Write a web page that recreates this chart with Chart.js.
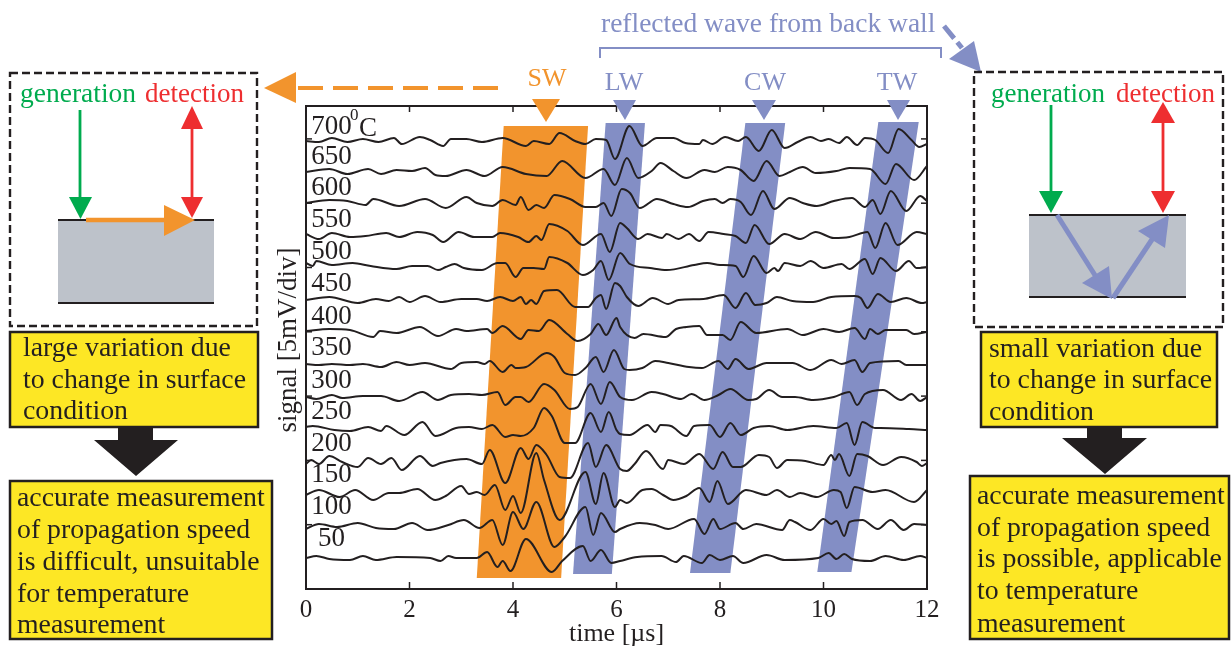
<!DOCTYPE html>
<html>
<head>
<meta charset="utf-8">
<title>signal vs time</title>
<script src="https://cdn.jsdelivr.net/npm/chart.js@4"></script>
<style>
  html, body { margin: 0; padding: 0; background: #fff; }
  canvas { display: block; }
</style>
</head>
<body>
<canvas id="chart" width="1231" height="650"></canvas>
<script>
// ===== DATA. [time us, deviation from trace baseline] =====
const temps = ["700", "650", "600", "550", "500", "450", "400", "350", "300", "250", "200", "150", "100", "50"];
// baseline of each trace on the y axis (64.3 units = 1 div = 5 mV)
const baselines = [448, 417, 386, 354, 324, 288, 258, 225, 192, 162, 127, 94, 62, 31];
// where the temperature labels sit on the y axis
const labelLevels = [462, 432, 401, 369, 337, 305, 272, 241, 208, 177, 145, 114, 82, 50];

const trace700 = [[0,0],[.25,-1],[.5,3],[.8,-1],[1.1,2],[1.4,-1],[1.7,3],[1.85,-3],[2.2,4],[2.4,1],[2.65,-5],[2.8,2],[3.1,2],[3.4,-1],[3.8,3],[4.25,-5],[4.4,0],[4.7,-3],[4.9,8],[5.2,0],[5.4,-3],[5.6,2],[5.8,1],[5.97,-18],[6.25,15],[6.5,-5],[6.78,3],[7.1,3],[7.33,-2],[7.6,-3],[7.67,1],[7.85,-3],[8.1,4],[8.35,0],[8.5,4],[8.75,-10],[9,11],[9.25,-7],[9.5,-1],[9.75,4],[9.95,0],[10.1,2],[10.3,-2],[10.45,4],[10.65,-4],[10.8,3],[11,1],[11.25,-12],[11.45,12],[11.7,1],[11.85,-6],[12,-3]];
const trace650 = [[0,0],[.45,3],[.8,-2],[1.2,3],[1.45,-2],[1.75,2],[2.05,1],[2.3,4],[2.5,-3],[2.7,-4],[3.1,2],[3.45,-4],[3.8,5],[4.25,-2],[4.65,-4],[4.95,11],[5.4,-6],[5.75,3],[5.97,-13],[6.2,14],[6.42,-6],[6.68,1],[6.85,9],[7.1,1],[7.35,-6],[7.7,2],[7.9,0],[8.15,5],[8.4,2],[8.65,-9],[8.9,11],[9.15,-4],[9.35,0],[9.6,5],[9.85,-1],[10.25,1],[10.5,4],[10.9,3],[11.2,-12],[11.4,8],[11.75,-8],[12,6]];
const trace600 = [[0,0],[.45,3],[.8,2],[1.15,-2],[1.3,4],[1.8,-3],[2.3,4],[2.7,-5],[3.1,6],[3.3,0],[3.6,-3],[3.8,3],[4.05,-2],[4.15,6],[4.3,-7],[4.45,-2],[4.6,-5],[4.8,8],[5.1,4],[5.4,-4],[5.6,-4],[5.75,0],[5.9,-13],[6.1,14],[6.26,10],[6.45,-5],[6.78,4],[7.1,-1],[7.38,-4],[7.67,2],[7.9,4],[8.05,0],[8.2,4],[8.4,1],[8.6,-12],[8.83,12],[9.05,-6],[9.35,5],[9.6,0],[9.87,-3],[10.2,2],[10.55,5],[10.8,-4],[10.95,3],[11.1,-11],[11.3,12],[11.6,-8],[11.87,7],[12,2]];
const trace550 = [[0,1],[.25,-4],[.5,2],[.85,-2],[1.15,-1],[1.55,2],[1.8,-2],[2.15,3],[2.45,0],[2.65,-7],[2.95,3],[3.25,-2],[3.6,-2],[3.75,2],[4.1,-2],[4.3,-7],[4.45,-1],[4.55,-5],[4.7,11],[5.05,4],[5.35,-10],[5.7,1],[5.87,-17],[6.07,12],[6.2,7],[6.42,-4],[6.6,1],[6.88,-3],[6.97,1],[7.2,-4],[7.4,1],[7.6,-6],[7.78,3],[8.07,1],[8.3,-1],[8.5,-8],[8.67,10],[8.95,-9],[9.25,1],[9.55,-4],[9.85,3],[10.2,-3],[10.5,-2],[10.85,3],[11,-13],[11.2,12],[11.43,-10],[11.8,3],[12,1]];
const trace500 = [[0,2],[.13,-1],[.2,4],[.5,0],[.9,2],[1.25,-1],[1.75,-4],[2.05,-1],[2.35,-1],[2.55,-5],[2.7,-2],[2.87,1],[3.05,-3],[3.4,-5],[3.7,2],[3.85,2],[4.05,-12],[4.2,-3],[4.4,-3],[4.6,-4],[4.7,8],[5.05,2],[5.35,-10],[5.55,-5],[5.7,4],[5.85,-15],[6.07,12],[6.26,1],[6.65,-3],[6.97,-5],[7.5,0],[7.75,2],[8,0],[8.3,-1],[8.45,-12],[8.65,9],[8.9,-8],[9.05,-3],[9.12,-6],[9.25,2],[9.55,-1],[9.75,4],[10,-3],[10.35,1],[10.5,-4],[10.8,6],[10.95,-9],[11.1,7],[11.4,-6],[11.65,4],[11.8,-3],[12,-2]];
const trace450 = [[0,1],[.45,4],[1,-2],[1.35,2],[1.6,0],[1.8,4],[2,-1],[2.3,5],[2.6,-1],[3,2],[3.3,2],[3.5,0],[3.75,4],[4,0],[4.15,4],[4.25,-3],[4.35,1],[4.45,-3],[4.6,10],[4.85,11],[5.2,-6],[5.45,-6],[5.6,3],[5.7,6],[5.8,-8],[5.97,18],[6.07,15],[6.2,4],[6.42,-5],[6.7,3],[7,-3],[7.2,1],[7.68,2],[8.07,6],[8.3,-7],[8.5,8],[8.68,-4],[8.9,-2],[9.1,4],[9.4,0],[9.8,-1],[10.15,4],[10.6,5],[10.72,3],[10.85,-7],[11.05,7],[11.3,-1],[11.6,3],[11.9,-2],[12,-1]];
const trace400 = [[0,0],[.45,2],[.85,1],[1.3,-6],[1.43,0],[1.75,-2],[2.2,4],[2.55,-5],[2.9,2],[3.1,0],[3.5,2],[3.6,-2],[3.8,5],[4.15,-8],[4.3,1],[4.5,0],[4.7,11],[5.05,-3],[5.25,-10],[5.5,-3],[5.65,7],[5.8,-4],[6,13],[6.07,4],[6.35,-7],[6.52,-3],[6.95,-6],[7.15,2],[7.35,4],[7.6,5],[7.75,-4],[8.05,-4],[8.2,-9],[8.4,9],[8.7,-2],[9.3,2],[9.6,-4],[10,2],[10.3,-1],[10.6,3],[10.8,-8],[10.9,2],[11.05,-3],[11.2,1],[11.6,1],[11.75,-3],[12,-1]];
const trace350 = [[0,0],[.25,-1],[.5,0],[.85,-1],[1.1,0],[1.45,-3],[1.75,2],[2,-1],[2.3,1],[2.8,-5],[3,1],[3.3,2],[3.45,0],[3.55,3],[3.8,-8],[3.97,-1],[4.05,-4],[4.25,-3],[4.65,11],[4.8,7],[5,-9],[5.2,-11],[5.4,-4],[5.6,7],[5.75,-8],[5.95,14],[6.15,-5],[6.25,-6],[6.5,-4],[6.75,3],[7,1],[7.4,-3],[7.65,-4],[7.97,3],[8.15,-5],[8.3,5],[8.55,-5],[8.9,1],[9.4,1],[9.75,-6],[10.15,4],[10.35,0],[10.6,4],[10.75,-8],[10.9,1],[11.45,3],[11.6,-1],[12,-1]];
const trace300 = [[0,0],[.2,-2],[.5,2],[.7,-1],[1.1,1],[1.45,1],[1.8,-4],[2.25,5],[2.55,-3],[2.8,2],[3.15,3],[3.4,2],[3.7,5],[3.85,-8],[4.05,0],[4.15,0],[4.3,-5],[4.6,13],[4.8,7],[5.1,-12],[5.25,-10],[5.5,13],[5.7,-7],[5.87,15],[6.07,0],[6.3,-3],[6.68,5],[6.9,3],[7.25,-2],[7.45,3],[7.7,-3],[7.97,2],[8.2,8],[8.55,-3],[8.7,-2],[8.95,7],[9.2,0],[9.45,0],[9.8,-3],[10.2,0],[10.5,5],[10.65,-8],[10.8,3],[11.15,7],[11.5,-3],[11.7,3],[11.87,-4],[12,0]];
const trace250 = [[0,0],[.13,1],[.55,-3],[.85,-4],[1.2,0],[1.45,-4],[1.55,1],[1.9,-8],[2.25,5],[2.5,-9],[2.9,-1],[3.15,0],[3.4,-2],[3.6,2],[3.85,-10],[4,-8],[4.15,-9],[4.4,-1],[4.6,19],[4.75,11],[5,-16],[5.2,-16],[5.5,14],[5.7,-5],[5.85,15],[6,-3],[6.07,-7],[6.25,-8],[6.6,2],[6.75,-5],[6.85,2],[7.05,1],[7.35,-9],[7.5,1],[7.8,2],[8,-10],[8.2,4],[8.4,-8],[8.65,-1],[8.95,1],[9.3,-3],[9.8,1],[10.25,-1],[10.45,4],[10.6,-18],[10.75,5],[11,-1],[11.1,-1],[11.65,-2],[12,-3]];
const trace200 = [[0,-2],[.1,2],[.25,-2],[.45,6],[.7,0],[1,-5],[1.2,4],[1.45,-2],[1.65,4],[1.85,-8],[2.2,6],[2.45,-4],[2.6,-1],[3.1,3],[3.4,-2],[3.55,12],[3.85,-21],[4.15,14],[4.3,3],[4.45,17],[4.65,7],[4.9,-15],[5.1,-16],[5.45,19],[5.6,-5],[5.8,17],[6.07,-7],[6.2,-9],[6.35,-2],[6.57,11],[6.9,-7],[7,2],[7.3,-2],[7.6,8],[7.87,-7],[8.05,10],[8.25,-5],[8.4,-5],[8.75,7],[8.95,5],[9.1,-6],[9.3,2],[9.65,1],[10,-3],[10.15,7],[10.22,2],[10.3,8],[10.5,-14],[10.65,8],[10.85,6],[11.15,-3],[11.5,5],[11.8,0],[11.9,-4],[12,-1]];
const trace150 = [[0,0],[.25,5],[.65,-2],[.95,5],[1.3,-5],[1.6,2],[1.8,2],[2.15,6],[2.5,-5],[2.7,-1],[3,9],[3.15,1],[3.3,3],[3.45,0],[3.65,10],[3.85,-15],[4,-1],[4.15,-18],[4.45,42],[4.6,15],[4.9,-25],[5.4,23],[5.6,-9],[5.75,22],[5.97,-12],[6.07,-5],[6.2,-8],[6.5,5],[6.68,6],[6.9,0],[7.1,-5],[7.35,-1],[7.6,7],[7.8,-7],[7.95,14],[8.15,-9],[8.5,5],[8.9,0],[9.1,5],[9.35,-2],[9.55,2],[9.87,-2],[10.2,5],[10.33,3],[10.45,-13],[10.6,8],[10.95,3],[11.2,5],[11.75,-7],[12,5]];
const trace100 = [[0,-2],[.25,3],[.6,0],[1,4],[1.35,-1],[1.7,-2],[2.05,4],[2.35,-3],[2.75,2],[3.05,7],[3.35,-1],[3.6,7],[3.8,-18],[4,15],[4.2,-2],[4.45,25],[4.8,-20],[5,-10],[5.4,20],[5.55,-8],[5.7,14],[5.97,-5],[6.07,-2],[6.45,4],[6.75,2],[7,-2],[7.5,8],[7.7,-7],[7.87,8],[8,-2],[8.3,4],[8.45,-2],[8.7,3],[9.2,-3],[9.35,7],[9.45,5],[9.75,-3],[10,8],[10.15,3],[10.25,6],[10.4,-9],[10.5,5],[10.75,7],[11.05,-2],[11.3,7],[11.55,-3],[11.75,3],[12,2]];
const trace50 = [[0,0],[.2,2],[.45,-1],[.85,-2],[1.1,2],[1.35,-2],[1.75,1],[2.4,0],[2.6,-3],[2.75,2],[2.9,0],[3.3,0],[3.5,6],[3.7,-9],[3.8,-3],[3.95,-13],[4.25,19],[4.75,-14],[4.95,-3],[5.35,12],[5.5,-3],[5.7,8],[5.9,-5],[6.07,-3],[6.4,1],[6.87,2],[7.15,-4],[7.3,2],[7.65,-5],[7.8,3],[8,-2],[8.25,2],[8.45,-5],[8.9,3],[9.25,-2],[9.9,0],[10.1,5],[10.25,-1],[10.4,4],[10.55,-1],[10.9,-3],[11.2,2],[11.55,-2],[11.87,2],[12,0]];
const traces = [trace700, trace650, trace600, trace550, trace500, trace450, trace400, trace350, trace300, trace250, trace200, trace150, trace100, trace50];

// wave bands: time at top edge (left, right) and at bottom edge (left, right), y levels
const bandSW = { top: [3.82, 5.45], bottom: [3.30, 4.93], levels: [463, 11] };
const bandLW = { top: [5.79, 6.55], bottom: [5.16, 5.91], levels: [466, 15] };
const bandCW = { top: [8.49, 9.26], bottom: [7.42, 8.20], levels: [466, 16] };
const bandTW = { top: [11.06, 11.84], bottom: [9.88, 10.54], levels: [467, 17] };

const ORANGE = "#F2942D", BLUE = "#838EC5", YELLOW = "#FDE725", GREEN = "#00AB4E", RED = "#EE2E30", GREY = "#BDC2CA", INK = "#231F20";
const SERIF = '"Liberation Serif", serif';

// ===== DRAW HELPERS =====
function poly(ctx, pts, color) {
  ctx.fillStyle = color;
  ctx.beginPath();
  pts.forEach((p, i) => i ? ctx.lineTo(p[0], p[1]) : ctx.moveTo(p[0], p[1]));
  ctx.closePath();
  ctx.fill();
}

function line(ctx, x1, y1, x2, y2, color, w, dash) {
  ctx.strokeStyle = color;
  ctx.lineWidth = w;
  ctx.setLineDash(dash || []);
  ctx.beginPath();
  ctx.moveTo(x1, y1);
  ctx.lineTo(x2, y2);
  ctx.stroke();
  ctx.setLineDash([]);
}

function label(ctx, str, x, y, color, size, align) {
  ctx.fillStyle = color;
  ctx.font = `${size}px ${SERIF}`;
  ctx.textAlign = align || "left";
  ctx.textBaseline = "alphabetic";
  ctx.fillText(str, x, y);
}

function textBox(ctx, x, y, w, h, textX, rows) {
  ctx.fillStyle = YELLOW;
  ctx.fillRect(x, y, w, h);
  ctx.strokeStyle = INK;
  ctx.lineWidth = 2.5;
  ctx.strokeRect(x, y, w, h);
  rows.forEach(r => label(ctx, r[0], textX, r[1], INK, 27.8));
}

function downArrow(ctx, stemL, stemR, headL, headR, top, shoulder, tipX, tipY) {
  poly(ctx, [[stemL, top], [stemR, top], [stemR, shoulder], [headR, shoulder], [tipX, tipY], [headL, shoulder], [stemL, shoulder]], INK);
}

function dashedPanel(ctx, x, y, w, h) {
  ctx.strokeStyle = INK;
  ctx.lineWidth = 2.4;
  ctx.setLineDash([8, 4]);
  ctx.strokeRect(x, y, w, h);
  ctx.setLineDash([]);
}

function specimen(ctx, x1, x2, y1, y2) {
  ctx.fillStyle = GREY;
  ctx.fillRect(x1, y1, x2 - x1, y2 - y1);
  line(ctx, x1, y1, x2, y1, INK, 2);
  line(ctx, x1, y2, x2, y2, INK, 2);
}

// ===== PLUGINS =====
const bandPlugin = {
  id: "bands",
  beforeDatasetsDraw(chart) {
    const { ctx, scales: { x, y } } = chart;
    [[bandSW, ORANGE], [bandLW, BLUE], [bandCW, BLUE], [bandTW, BLUE]].forEach(([b, color]) => {
      poly(ctx, [
        [x.getPixelForValue(b.top[0]), y.getPixelForValue(b.levels[0])],
        [x.getPixelForValue(b.top[1]), y.getPixelForValue(b.levels[0])],
        [x.getPixelForValue(b.bottom[1]), y.getPixelForValue(b.levels[1])],
        [x.getPixelForValue(b.bottom[0]), y.getPixelForValue(b.levels[1])]
      ], color);
    });
  }
};

const framePlugin = {
  id: "frame",
  afterDraw(chart) {
    const { ctx, chartArea: a, scales: { x, y } } = chart;
    ctx.save();
    ctx.strokeStyle = INK;
    ctx.lineWidth = 2;
    ctx.strokeRect(a.left, a.top, a.right - a.left, a.bottom - a.top);
    // ticks point into the plot on all four sides
    x.ticks.forEach(t => {
      const px = x.getPixelForValue(t.value);
      line(ctx, px, a.bottom, px, a.bottom - 7, INK, 1.5);
      line(ctx, px, a.top, px, a.top + 6, INK, 1.5);
    });
    y.ticks.forEach(t => {
      const py = y.getPixelForValue(t.value);
      line(ctx, a.left, py, a.left + 6, py, INK, 1.5);
      line(ctx, a.right, py, a.right - 6, py, INK, 1.5);
    });
    // temperature labels
    temps.forEach((temp, i) => {
      const px = x.getPixelForValue(temp === "50" ? 0.23 : 0.1);
      ctx.fillStyle = INK;
      ctx.font = `27px ${SERIF}`;
      ctx.textAlign = "left";
      ctx.textBaseline = "middle";
      ctx.fillText(temp, px, y.getPixelForValue(labelLevels[i]));
    });
    label(ctx, "0", 350, 120, INK, 17);
    label(ctx, "C", 359, 136, INK, 27);
    // y title sits a little above the middle of the axis, so it is placed by hand
    ctx.translate(296, 340);
    ctx.rotate(-Math.PI / 2);
    label(ctx, "signal [5mV/div]", 0, 0, INK, 27, "center");
    ctx.restore();
  }
};

const sidePlugin = {
  id: "side",
  afterDraw(chart) {
    const ctx = chart.ctx;
    ctx.save();

    // wave names above the plot
    label(ctx, "reflected wave from back wall", 601, 32, BLUE, 27.5);
    ctx.strokeStyle = BLUE;
    ctx.lineWidth = 2;
    ctx.beginPath();
    ctx.moveTo(600, 58); ctx.lineTo(600, 48); ctx.lineTo(941, 48); ctx.lineTo(941, 58);
    ctx.stroke();
    label(ctx, "SW", 547, 86, ORANGE, 26, "center");
    label(ctx, "LW", 624, 90, BLUE, 26, "center");
    label(ctx, "CW", 765, 90, BLUE, 26, "center");
    label(ctx, "TW", 897, 90, BLUE, 26, "center");
    poly(ctx, [[532, 99], [560, 99], [546, 122]], ORANGE);
    poly(ctx, [[613, 100], [636, 100], [625, 120]], BLUE);
    poly(ctx, [[752, 100], [776, 100], [764, 120]], BLUE);
    poly(ctx, [[887, 100], [910, 100], [898, 120]], BLUE);

    // dashed pointers to the two panels
    line(ctx, 498, 88, 292, 88, ORANGE, 4, [25, 10]);
    poly(ctx, [[264, 88], [296, 72], [296, 103]], ORANGE);
    line(ctx, 944, 26, 962, 48, BLUE, 5, [16, 5]);
    poly(ctx, [[981, 72], [949, 59], [974, 41]], BLUE);

    // left panel: surface wave
    dashedPanel(ctx, 10, 73, 247, 253);
    specimen(ctx, 58, 214, 220, 303);
    label(ctx, "generation", 20, 102, GREEN, 27.5);
    label(ctx, "detection", 145, 102, RED, 27);
    line(ctx, 80, 110, 80, 200, GREEN, 2.8);
    poly(ctx, [[69, 197], [92, 197], [80.5, 219]], GREEN);
    line(ctx, 192, 125, 192, 200, RED, 2.8);
    poly(ctx, [[181, 129], [203, 129], [192, 106]], RED);
    poly(ctx, [[181, 197], [203, 197], [192, 218]], RED);
    line(ctx, 86, 220, 166, 220, ORANGE, 4.5);
    poly(ctx, [[164, 205], [195, 220], [164, 236]], ORANGE);

    // right panel: reflected wave
    dashedPanel(ctx, 974, 72, 249, 255);
    specimen(ctx, 1029, 1186, 215, 297);
    label(ctx, "generation", 991, 102, GREEN, 27);
    label(ctx, "detection", 1116, 102, RED, 27);
    line(ctx, 1051, 105, 1051, 194, GREEN, 2.8);
    poly(ctx, [[1039, 191], [1063, 191], [1051, 213]], GREEN);
    line(ctx, 1163, 120, 1163, 194, RED, 2.8);
    poly(ctx, [[1151, 123], [1175, 123], [1163, 102]], RED);
    poly(ctx, [[1151, 191], [1175, 191], [1163, 213]], RED);
    line(ctx, 1057, 215, 1098, 280, BLUE, 5);
    poly(ctx, [[1112, 299], [1082, 283], [1109, 266]], BLUE);
    line(ctx, 1113, 298, 1155, 235, BLUE, 5);
    poly(ctx, [[1169, 215], [1138, 231], [1165, 248]], BLUE);

    // yellow conclusion boxes
    textBox(ctx, 10, 332, 248, 95, 23, [["large variation due", 356], ["to change in surface", 388], ["condition", 419]]);
    downArrow(ctx, 118, 153, 94, 178, 427, 440, 136, 476);
    textBox(ctx, 10, 481, 262, 158, 17, [["accurate measurement", 506], ["of propagation speed", 538], ["is difficult, unsuitable", 570], ["for temperature", 602], ["measurement", 633]]);
    textBox(ctx, 981, 332, 236, 95, 989, [["small variation due", 357], ["to change in surface", 388], ["condition", 420]]);
    downArrow(ctx, 1087, 1122, 1062, 1147, 427, 438, 1105, 474);
    textBox(ctx, 970, 476, 259, 163, 977, [["accurate measurement", 504], ["of propagation speed", 536], ["is possible, applicable", 567], ["to temperature", 599], ["measurement", 632]]);

    ctx.restore();
  }
};

// ===== CHART =====
new Chart(document.getElementById("chart"), {
  type: "line",
  data: {
    datasets: traces.map((trace, i) => ({
      label: temps[i],
      data: trace.map(p => ({ x: p[0], y: baselines[i] + p[1] })),
      borderColor: INK,
      borderWidth: 2,
      pointRadius: 0,
      cubicInterpolationMode: "monotone"
    }))
  },
  options: {
    responsive: false,
    animation: false,
    layout: { padding: { left: 272, right: 304, top: 106, bottom: 0 } },
    plugins: { legend: { display: false }, tooltip: { enabled: false } },
    scales: {
      x: {
        type: "linear",
        min: 0,
        max: 12,
        grid: { display: false, tickLength: 0 },
        border: { display: false },
        afterFit: s => { s.height = 61; },
        ticks: {
          stepSize: 2,
          maxRotation: 0,
          autoSkip: false,
          padding: 6,
          color: INK,
          font: { family: SERIF, size: 25 }
        },
        title: {
          display: true,
          text: "time [µs]",
          color: INK,
          padding: 0,
          font: { family: SERIF, size: 26 }
        }
      },
      y: {
        min: 0,
        max: 483,
        grid: { display: false },
        border: { display: false },
        afterFit: s => { s.width = 34; },
        ticks: { stepSize: 64.3, callback: () => "", padding: 0 }
      }
    }
  },
  plugins: [bandPlugin, framePlugin, sidePlugin]
});
</script>
</body>
</html>
